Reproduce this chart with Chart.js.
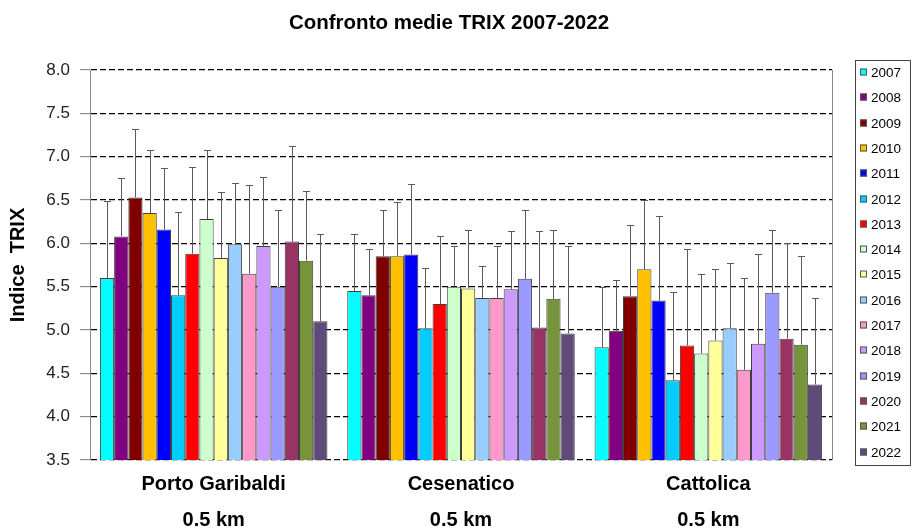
<!DOCTYPE html>
<html>
<head>
<meta charset="utf-8">
<script src="https://cdn.jsdelivr.net/npm/chart.js@4.4.0/dist/chart.umd.min.js"></script>
<style>
  html, body { margin: 0; padding: 0; background: #fff; }
  #wrap { width: 912px; height: 530px; }
</style>
</head>
<body>
<div id="wrap"><canvas id="chart" width="912" height="530"></canvas></div>
<script>
// Chart data
const chartTitle = 'Confronto medie TRIX 2007-2022';
const sites = ['Porto Garibaldi', 'Cesenatico', 'Cattolica'];
const distance = '0.5 km';
const years = ['2007', '2008', '2009', '2010', '2011', '2012', '2013', '2014',
               '2015', '2016', '2017', '2018', '2019', '2020', '2021', '2022'];
const yearColors = ['#00FFFF', '#800080', '#800000', '#FFC000', '#0000FF', '#00CCFF', '#FF0000', '#CCFFCC',
                    '#FFFF99', '#99CCFF', '#FF99CC', '#CC99FF', '#9999FF', '#993366', '#77933C', '#604A7B'];

// mean TRIX per year, one array per site
const portoMeans = [5.60, 6.08, 6.53, 6.35, 6.16, 5.40, 5.88, 6.28, 5.83, 5.99, 5.65, 5.97, 5.50, 6.02, 5.80, 5.10];
const cesenaticoMeans = [5.45, 5.40, 5.85, 5.85, 5.87, 5.02, 5.30, 5.50, 5.48, 5.37, 5.37, 5.47, 5.59, 5.03, 5.36, 4.96];
const cattolicaMeans = [4.80, 4.99, 5.39, 5.70, 5.34, 4.42, 4.82, 4.73, 4.88, 5.02, 4.54, 4.84, 5.43, 4.90, 4.83, 4.37];

// standard deviations (drawn upward only)
const portoSd = [0.89, 0.67, 0.79, 0.73, 0.71, 0.96, 1.00, 0.80, 0.76, 0.71, 1.02, 0.80, 0.89, 1.10, 0.80, 1.01];
const cesenaticoSd = [0.66, 0.53, 0.53, 0.63, 0.82, 0.70, 0.78, 0.47, 0.67, 0.37, 0.60, 0.67, 0.79, 1.11, 0.79, 1.01];
const cattolicaSd = [0.70, 0.59, 0.82, 0.80, 0.97, 1.02, 1.12, 0.92, 0.82, 0.75, 1.06, 1.04, 0.72, 1.10, 1.02, 1.00];

const yTicks = [3.5, 4.0, 4.5, 5.0, 5.5, 6.0, 6.5, 7.0, 7.5, 8.0];

const FONT = 'Arial, "Liberation Sans", sans-serif';

const datasets = years.map((yr, i) => ({
    label: yr,
    data: [portoMeans[i], cesenaticoMeans[i], cattolicaMeans[i]],
    sd: [portoSd[i], cesenaticoSd[i], cattolicaSd[i]],
    backgroundColor: yearColors[i],
    borderColor: '#404040',
    borderWidth: 1,
    barPercentage: 1.0,
    categoryPercentage: 0.92
}));

// error bars above each bar
const errorBars = {
    id: 'errorBars',
    afterDatasetsDraw(chart) {
        const ctx = chart.ctx;
        const y = chart.scales.y;
        ctx.save();
        ctx.strokeStyle = '#5a5a5a';
        ctx.lineWidth = 1;
        chart.data.datasets.forEach((ds, di) => {
            const meta = chart.getDatasetMeta(di);
            meta.data.forEach((bar, j) => {
                const top = Math.round(y.getPixelForValue(ds.data[j] + ds.sd[j])) + 0.5;
                const x = Math.round(bar.x) + 0.5;
                ctx.beginPath();
                ctx.moveTo(x, bar.y);
                ctx.lineTo(x, top);
                ctx.moveTo(x - 3.5, top);
                ctx.lineTo(x + 3.5, top);
                ctx.stroke();
            });
        });
        ctx.restore();
    }
};

// title (centred on the whole picture), right frame of the plot, boxed legend
const decorations = {
    id: 'decorations',
    afterDraw(chart) {
        const ctx = chart.ctx;
        const a = chart.chartArea;
        ctx.save();

        ctx.fillStyle = '#000';
        ctx.font = 'bold 20.5px ' + FONT;
        ctx.textAlign = 'center';
        ctx.textBaseline = 'middle';
        ctx.fillText(chartTitle, 449, 23);

        ctx.strokeStyle = '#888';
        ctx.lineWidth = 1;
        ctx.beginPath();
        ctx.moveTo(Math.round(a.right) + 0.5, a.top);
        ctx.lineTo(Math.round(a.right) + 0.5, a.bottom);
        ctx.stroke();

        // legend box
        const lx = 855, ly = 60, lw = 55, lh = 405;
        ctx.strokeStyle = '#444';
        ctx.strokeRect(lx + 0.5, ly + 0.5, lw, lh);
        const step = 25.3;
        ctx.font = '13.5px ' + FONT;
        ctx.textAlign = 'left';
        chart.data.datasets.forEach((ds, i) => {
            const cy = Math.round(ly + 12 + i * step);
            ctx.fillStyle = ds.backgroundColor;
            ctx.fillRect(lx + 5, cy - 3.5, 7, 7);
            ctx.strokeStyle = '#555';
            ctx.strokeRect(lx + 5.5, cy - 3, 6, 6);
            ctx.fillStyle = '#000';
            ctx.fillText(ds.label, lx + 16, cy + 1);
        });
        ctx.restore();
    }
};

new Chart(document.getElementById('chart'), {
    type: 'bar',
    data: {
        labels: sites.map(s => [s, distance]),
        datasets: datasets
    },
    plugins: [errorBars, decorations],
    options: {
        responsive: false,
        animation: false,
        layout: { padding: { left: 0, right: 80, top: 70, bottom: 0 } },
        plugins: {
            title: { display: false },
            legend: { display: false },
            tooltip: { enabled: false }
        },
        scales: {
            x: {
                grid: { display: false, drawTicks: false },
                border: { display: false },
                afterFit(axis) { axis.height = 70; },
                ticks: {
                    color: '#000',
                    padding: 6,
                    font: { family: FONT, size: 20, weight: 'bold', lineHeight: 1.8 }
                }
            },
            y: {
                min: yTicks[0],
                max: yTicks[yTicks.length - 1],
                afterBuildTicks(axis) {
                    axis.ticks = yTicks.map(v => ({ value: v }));
                },
                afterFit(axis) { axis.width = 90; },
                grid: {
                    color: '#000',
                    lineWidth: 1.3,
                    tickColor: '#777',
                    tickWidth: 1,
                    tickLength: 10,
                    tickBorderDash: []
                },
                border: { display: true, color: '#888', width: 1, dash: [6, 3] },
                ticks: {
                    color: '#222',
                    padding: 10,
                    font: { family: FONT, size: 17 },
                    callback: v => v.toFixed(1)
                },
                title: {
                    display: true,
                    text: 'Indice  TRIX',
                    color: '#000',
                    font: { family: FONT, size: 20, weight: 'bold' },
                    padding: { top: 6, bottom: 0 }
                }
            }
        }
    }
});
</script>
</body>
</html>
